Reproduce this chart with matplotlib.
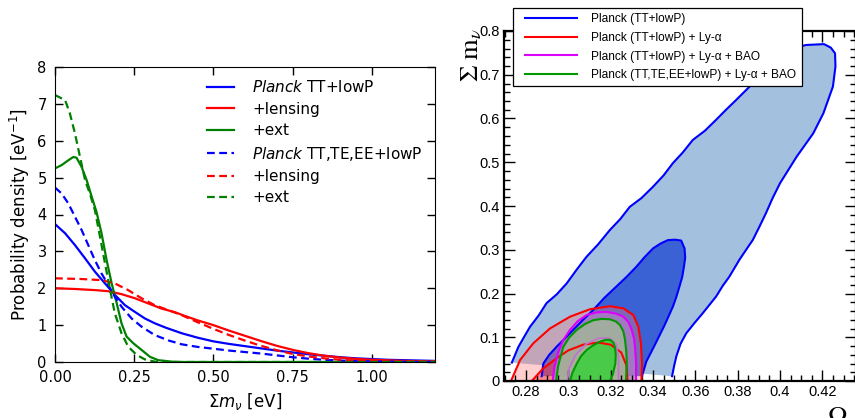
import matplotlib
matplotlib.use("Agg")
import matplotlib.pyplot as plt
from matplotlib.ticker import MultipleLocator, FuncFormatter
from matplotlib.lines import Line2D
from matplotlib.legend_handler import HandlerLine2D

# ---- left panel: 1D posteriors for sum m_nu ----
tt_x = [0.0, 0.032, 0.063, 0.095, 0.126, 0.158, 0.189, 0.221, 0.252, 0.284, 0.315, 0.35, 0.4, 0.45,
        0.5, 0.55, 0.6, 0.65, 0.7, 0.75, 0.8, 0.85, 0.9, 0.95, 1.0, 1.05, 1.1, 1.15, 1.2]
tt_y = [3.74, 3.49, 3.17, 2.81, 2.45, 2.13, 1.82, 1.54, 1.36, 1.18, 1.05, 0.93, 0.78, 0.66,
        0.56, 0.49, 0.43, 0.37, 0.31, 0.26, 0.21, 0.17, 0.13, 0.10, 0.08, 0.06, 0.05, 0.04, 0.03]

ttlens_x = [0.0, 0.063, 0.126, 0.168, 0.21, 0.252, 0.294, 0.336, 0.379, 0.41, 0.45, 0.5, 0.55, 0.6,
            0.65, 0.7, 0.75, 0.8, 0.85, 0.9, 0.95, 1.0, 1.1, 1.2]
ttlens_y = [2.0, 1.98, 1.95, 1.92, 1.84, 1.73, 1.59, 1.45, 1.35, 1.25, 1.13, 1.0, 0.85, 0.71,
            0.57, 0.44, 0.33, 0.24, 0.17, 0.12, 0.085, 0.06, 0.03, 0.015]

ttext_x = [0.0, 0.021, 0.042, 0.058, 0.068, 0.084, 0.1, 0.116, 0.131, 0.147, 0.163, 0.179, 0.195,
           0.21, 0.226, 0.247, 0.273, 0.3, 0.326, 0.368, 0.4, 0.5, 1.2]
ttext_y = [5.25, 5.34, 5.47, 5.56, 5.54, 5.29, 4.93, 4.48, 4.07, 3.49, 2.76, 2.13, 1.59,
           1.05, 0.69, 0.51, 0.33, 0.14, 0.05, 0.01, 0.0, 0.0, 0.0]

all_x = [0.0, 0.021, 0.042, 0.063, 0.084, 0.105, 0.126, 0.147, 0.168, 0.189, 0.21, 0.242, 0.273,
         0.315, 0.36, 0.4, 0.45, 0.5, 0.55, 0.6, 0.65, 0.7, 0.75, 0.8, 0.85, 0.9, 0.95, 1.0, 1.1, 1.2]
all_y = [4.73, 4.57, 4.30, 3.94, 3.58, 3.17, 2.76, 2.40, 2.09, 1.77, 1.50, 1.18, 0.96,
         0.73, 0.58, 0.48, 0.41, 0.36, 0.31, 0.27, 0.23, 0.18, 0.13, 0.09, 0.06, 0.04, 0.025, 0.015, 0.005, 0.0]

alllens_x = [0.0, 0.084, 0.147, 0.189, 0.231, 0.273, 0.315, 0.357, 0.4, 0.45, 0.5, 0.55, 0.6, 0.65,
             0.7, 0.75, 0.8, 0.85, 0.9, 0.95, 1.0, 1.1, 1.2]
alllens_y = [2.27, 2.25, 2.22, 2.13, 1.95, 1.73, 1.54, 1.41, 1.27, 1.08, 0.9, 0.73, 0.58, 0.44,
             0.32, 0.22, 0.15, 0.10, 0.06, 0.04, 0.025, 0.01, 0.005]

allext_x = [0.0, 0.032, 0.047, 0.063, 0.079, 0.095, 0.11, 0.126, 0.142, 0.158, 0.174, 0.189, 0.21,
            0.231, 0.258, 0.284, 0.315, 0.34, 0.4, 1.2]
allext_y = [7.24, 7.10, 6.74, 6.20, 5.56, 4.93, 4.57, 4.12, 3.40, 2.67, 1.95, 1.32, 0.78,
            0.42, 0.19, 0.07, 0.01, 0.0, 0.0, 0.0]

left_labels = [r"$\mathit{Planck}$ TT+lowP", "+lensing", "+ext",
               r"$\mathit{Planck}$ TT,TE,EE+lowP", "+lensing", "+ext"]

# ---- right panel: 2D contours (Omega_m, sum m_nu) ----
blue95_x = [0.2733, 0.2764, 0.2790, 0.2819, 0.2860, 0.2897, 0.2945, 0.2992, 0.3040, 0.3086, 0.3140,
            0.3196, 0.3245, 0.329, 0.3345, 0.34, 0.3450, 0.3494, 0.3540, 0.3588, 0.3645, 0.3698, 0.3745,
            0.3792, 0.3871, 0.3965, 0.4043, 0.4122, 0.4208, 0.4240, 0.426, 0.4262, 0.425, 0.4205,
            0.4157, 0.4079, 0.40, 0.3965, 0.3933, 0.3900, 0.3871, 0.3840, 0.3808, 0.376, 0.3730,
            0.3698, 0.3635, 0.3595, 0.3557, 0.3530, 0.351, 0.3500, 0.349]
blue95_y = [0.042, 0.078, 0.100, 0.124, 0.150, 0.178, 0.198, 0.223, 0.255, 0.284, 0.312,
            0.345, 0.370, 0.398, 0.418, 0.444, 0.470, 0.498, 0.522, 0.551, 0.572, 0.597, 0.620,
            0.642, 0.680, 0.726, 0.757, 0.768, 0.770, 0.762, 0.749, 0.719, 0.673, 0.612,
            0.566, 0.513, 0.452, 0.418, 0.383, 0.350, 0.322, 0.300, 0.277, 0.238, 0.218,
            0.193, 0.155, 0.132, 0.109, 0.085, 0.056, 0.035, 0.011]

blue68_x = [0.2874, 0.2882, 0.2910, 0.2944, 0.2985, 0.3023, 0.3070, 0.3117, 0.3170, 0.3227, 0.3275,
            0.3321, 0.3360, 0.34, 0.3435, 0.347, 0.3505, 0.3533, 0.3549, 0.3552, 0.3546, 0.3538,
            0.3525, 0.3510, 0.3494, 0.3455, 0.3408, 0.3368, 0.3348]
blue68_y = [0.011, 0.040, 0.060, 0.078, 0.098, 0.117, 0.140, 0.162, 0.190, 0.216, 0.238,
            0.261, 0.283, 0.303, 0.314, 0.322, 0.323, 0.321, 0.303, 0.282, 0.261, 0.238,
            0.216, 0.192, 0.170, 0.128, 0.082, 0.044, 0.011]

red95_x = [0.2729, 0.2772, 0.2834, 0.2913, 0.3008, 0.3102, 0.3197, 0.3260, 0.3307, 0.3331, 0.3343,
           0.3348, 0.3345]
red95_y = [0.0, 0.048, 0.086, 0.120, 0.147, 0.164, 0.171, 0.166, 0.151, 0.124, 0.086, 0.040, 0.0]
red68_x = [0.2827, 0.2882, 0.2945, 0.3000, 0.3070, 0.3140, 0.3200, 0.3250, 0.3275, 0.3280]
red68_y = [0.0, 0.029, 0.052, 0.070, 0.083, 0.088, 0.083, 0.065, 0.035, 0.0]

mag95_x = [0.2926, 0.2933, 0.2953, 0.2975, 0.3008, 0.3045, 0.3087, 0.3135, 0.3181, 0.3225, 0.3260,
           0.3285, 0.3299, 0.3310, 0.3315, 0.3320, 0.3320]
mag95_y = [0.0, 0.030, 0.067, 0.093, 0.117, 0.137, 0.151, 0.157, 0.158, 0.154, 0.147,
           0.134, 0.117, 0.098, 0.078, 0.040, 0.0]
mag68_x = [0.2995, 0.3005, 0.3035, 0.3085, 0.3145, 0.3195, 0.3225, 0.3237, 0.3237]
mag68_y = [0.0, 0.030, 0.060, 0.085, 0.098, 0.098, 0.085, 0.055, 0.0]

grn95_x = [0.2942, 0.2952, 0.2976, 0.3005, 0.3040, 0.3078, 0.3118, 0.3158, 0.3197, 0.3225, 0.3244,
           0.3260, 0.3268, 0.3274, 0.3276, 0.3272]
grn95_y = [0.0, 0.035, 0.078, 0.100, 0.117, 0.130, 0.139, 0.142, 0.141, 0.136, 0.128,
           0.113, 0.094, 0.065, 0.040, 0.0]
grn68_x = [0.3008, 0.3020, 0.3040, 0.3060, 0.3087, 0.3118, 0.3150, 0.3175, 0.3197, 0.3212, 0.3220,
           0.3224, 0.3222, 0.3210, 0.3197]
grn68_y = [0.0, 0.020, 0.040, 0.057, 0.071, 0.082, 0.090, 0.094, 0.094, 0.088, 0.078,
           0.060, 0.040, 0.015, 0.0]

right_labels = ["Planck (TT+lowP)", "Planck (TT+lowP) + Ly-\u03b1",
                "Planck (TT+lowP) + Ly-\u03b1 + BAO", "Planck (TT,TE,EE+lowP) + Ly-\u03b1 + BAO"]

fig = plt.figure(figsize=(8.55, 4.18), dpi=100)

# left
ax = fig.add_axes([55 / 855, 1 - 362 / 418, 380 / 855, 295 / 418])
lw = 1.6
dash = (0, (3.5, 2))
ax.plot(tt_x, tt_y, color="#0000ff", lw=lw, label=left_labels[0])
ax.plot(ttlens_x, ttlens_y, color="#ff0000", lw=lw, label=left_labels[1])
ax.plot(ttext_x, ttext_y, color="#008000", lw=lw, label=left_labels[2])
ax.plot(all_x, all_y, color="#0000ff", lw=lw, ls=dash, label=left_labels[3])
ax.plot(alllens_x, alllens_y, color="#ff0000", lw=lw, ls=dash, label=left_labels[4])
ax.plot(allext_x, allext_y, color="#008000", lw=lw, ls=dash, label=left_labels[5])
ax.set_xlim(0, 1.2)
ax.set_ylim(0, 8)
ax.xaxis.set_major_locator(MultipleLocator(0.25))
ax.xaxis.set_major_formatter(FuncFormatter(lambda v, p: "%.2f" % v))
ax.yaxis.set_major_locator(MultipleLocator(1))
ax.tick_params(direction="in", top=True, right=True, length=6, width=1, labelsize=10.5, pad=6)
ax.set_xlabel(r"$\Sigma m_\nu$ [eV]", fontsize=12)
ax.set_ylabel(r"Probability density [eV$^{-1}$]", fontsize=12)
ax.legend(loc="upper left", bbox_to_anchor=(0.40, 0.958), frameon=False, fontsize=11,
          handlelength=1.75, handletextpad=1.2, labelspacing=0.42, borderpad=0, borderaxespad=0)

# right
ax2 = fig.add_axes([504 / 855, 1 - 381 / 418, 352 / 855, 350 / 418])
ax2.fill(blue95_x, blue95_y, color="#a3c1df", lw=0)
ax2.plot(blue95_x, blue95_y, color="#0000ff", lw=1.5, label=right_labels[0])
ax2.fill(blue68_x, blue68_y, color="#3b62d4", lw=0)
ax2.plot(blue68_x, blue68_y, color="#0000ff", lw=1.5)
ax2.fill(red95_x, red95_y, color=(1.0, 0.45, 0.45), alpha=0.35, lw=0)
ax2.fill(red68_x, red68_y, color=(1.0, 0.2, 0.2), alpha=0.45, lw=0)
ax2.plot(red95_x, red95_y, color="#ff0000", lw=1.5, label=right_labels[1])
ax2.plot(red68_x, red68_y, color="#ff0000", lw=1.5)
ax2.fill(mag95_x, mag95_y, color=(0.68, 0.5, 0.78), alpha=0.75, lw=0)
ax2.fill(mag68_x, mag68_y, color=(0.85, 0.65, 0.6), alpha=0.35, lw=0)
ax2.plot(mag95_x, mag95_y, color="#dd00ff", lw=1.5, label=right_labels[2])
ax2.plot(mag68_x, mag68_y, color="#c070d0", lw=1.2)
ax2.fill(grn95_x, grn95_y, color=(0.64, 0.74, 0.58), alpha=0.75, lw=0)
ax2.fill(grn68_x, grn68_y, color=(0.27, 0.8, 0.27), alpha=0.95, lw=0)
ax2.plot(grn95_x, grn95_y, color="#009900", lw=1.5, label=right_labels[3])
ax2.plot(grn68_x, grn68_y, color="#009900", lw=1.5)
ax2.set_xlim(0.2696, 0.4359)
ax2.set_ylim(0, 0.8)
ax2.xaxis.set_major_locator(MultipleLocator(0.02))
ax2.xaxis.set_minor_locator(MultipleLocator(0.005))
ax2.yaxis.set_major_locator(MultipleLocator(0.1))
ax2.yaxis.set_minor_locator(MultipleLocator(0.02))
fmt = FuncFormatter(lambda v, p: "%g" % round(v, 3))
ax2.xaxis.set_major_formatter(fmt)
ax2.yaxis.set_major_formatter(fmt)
ax2.tick_params(which="both", direction="in", top=True, right=True, width=1)
ax2.tick_params(which="major", length=8, labelsize=10.5, pad=3)
ax2.tick_params(which="minor", length=4.5)
for lab in ax2.get_xticklabels() + ax2.get_yticklabels():
    lab.set_fontfamily("Liberation Sans")
for s in ax2.spines.values():
    s.set_linewidth(1.6)
leg = ax2.legend(loc="upper left", bbox_to_anchor=(513 / 855, 1 - 8 / 418), bbox_transform=fig.transFigure,
                 prop={"family": "Liberation Sans", "size": 8.6}, handlelength=4.9, handletextpad=1.2,
                 labelspacing=0.55, borderpad=0.45, borderaxespad=0, fancybox=False, framealpha=1,
                 edgecolor="black", handler_map={Line2D: HandlerLine2D(xpad=0.55)})
leg.get_frame().set_linewidth(0.9)

fig.text(471 / 855, 1 - 28 / 418, r"$\Sigma\ \mathrm{m}_{\nu}$", math_fontfamily="stix", fontsize=19,
         rotation=90, ha="center", va="top")
fig.text(827 / 855, 1 - 404 / 418, r"$\Omega_{\mathrm{m}}$", math_fontfamily="stix", fontsize=19,
         ha="left", va="top")

fig.savefig("out.png", dpi=100)
